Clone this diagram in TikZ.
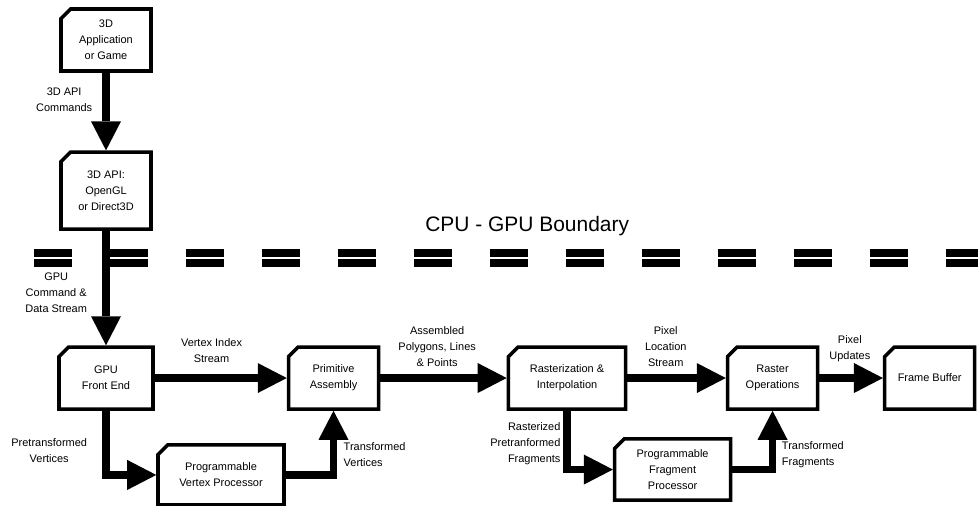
\documentclass[tikz,border=0pt]{standalone}
\usepackage{fontspec}
\setsansfont{Liberation Sans}
\usepackage{tikz}
\usetikzlibrary{arrows.meta,positioning,shapes.misc}
\tikzset{
  stagebox/.style={
    chamfered rectangle, chamfered rectangle corners=north west,
    chamfered rectangle xsep=0.12cm, chamfered rectangle ysep=0.12cm,
    draw=black, fill=white, line width=2.5pt,
    minimum width=2.25cm, minimum height=1.55cm,
    font=\fontsize{7.8}{11.4}\selectfont\sffamily, align=center,
    inner sep=2pt
  },
  flowarrow/.style={
    -{Triangle[length=0.725cm, width=0.75cm, line width=0pt]},
    line width=0.19cm, color=black
  },
  flowlabel/.style={
    font=\fontsize{7.8}{11.4}\selectfont\sffamily, align=center,
    inner sep=1pt, outer sep=0pt
  },
  boundarylabel/.style={
    font=\fontsize{14.9}{18}\selectfont\sffamily, inner sep=1pt
  },
}
\begin{document}
\begin{tikzpicture}
\useasboundingbox (0,0) rectangle (24.45,-12.65);

% CPU side
\node[stagebox] (app) at (2.65,-1.0) {3D\\Application\\or Game};
\node[stagebox, below=1.94cm of app, minimum height=1.925cm] (api) {3D API:\\OpenGL\\or Direct3D};

% CPU - GPU boundary
\node[boundarylabel] (boundary) at (13.18,-5.65) {CPU - GPU Boundary};
\draw[line width=0.19cm, dash pattern=on 0.95cm off 0.95cm] (0.86,-6.32) -- (24.45,-6.32);
\draw[line width=0.19cm, dash pattern=on 0.95cm off 0.95cm] (0.86,-6.58) -- (24.45,-6.58);

% GPU pipeline
\node[stagebox, below=2.86cm of api, minimum width=2.35cm] (frontend) {GPU\\Front End};
\node[stagebox, right=3.3cm of frontend] (primasm) {Primitive\\Assembly};
\node[stagebox, right=3.16cm of primasm, minimum width=2.93cm] (raster) {Rasterization \&\\Interpolation};
\node[stagebox, right=2.46cm of raster] (rop) {Raster\\Operations};
\node[stagebox, right=1.59cm of rop] (fbuf) {Frame Buffer};
\node[stagebox, below=0.81cm of frontend, xshift=2.875cm,
      minimum width=3.15cm, minimum height=1.5cm] (vertproc) {Programmable\\Vertex Processor};
\node[stagebox, below=0.66cm of raster, xshift=2.64cm,
      minimum width=2.9cm, minimum height=1.53cm] (fragproc) {Programmable\\Fragment\\Processor};

% Main flow
\draw[flowarrow] (app.south) -- node[flowlabel, left=0.31cm, pos=0.35] (lblcmd) {3D API\\Commands} (api.north);
\draw[flowarrow] (api.south) -- node[flowlabel, left=0.44cm, pos=0.54] (lblgpu) {GPU\\Command \&\\Data Stream} (frontend.north);
\draw[flowarrow] (frontend.east) -- node[flowlabel, above=0.36cm, pos=0.43] (lblidx) {Vertex Index\\Stream} (primasm.west);
\draw[flowarrow] (primasm.east) -- node[flowlabel, above=0.26cm, pos=0.45] (lblprims) {Assembled\\Polygons, Lines\\\& Points} (raster.west);
\draw[flowarrow] (raster.east) -- node[flowlabel, above=0.24cm, pos=0.39] (lblloc) {Pixel\\Location\\Stream} (rop.west);
\draw[flowarrow] (rop.east) -- node[flowlabel, above=0.36cm, pos=0.48] (lblupd) {Pixel\\Updates} (fbuf.west);

% Programmable stages
\draw[flowarrow] (frontend.south) |- node[flowlabel, left=0.44cm, pos=0.31] (lblpre) {Pretransformed\\Vertices} (vertproc.west);
\draw[flowarrow] (vertproc.east) -| node[flowlabel, right=0.22cm, pos=0.66, align=left] (lblxv) {Transformed\\Vertices} (primasm.south);
\draw[flowarrow] (raster.south) |- node[flowlabel, left=0.13cm, pos=0.28, align=right] (lblrast) {Rasterized\\Pretranformed\\Fragments} (fragproc.west);
\draw[flowarrow] (fragproc.east) -| node[flowlabel, right=0.2cm, pos=0.63, align=left] (lblxf) {Transformed\\Fragments} (rop.south);

\end{tikzpicture}
\end{document}
